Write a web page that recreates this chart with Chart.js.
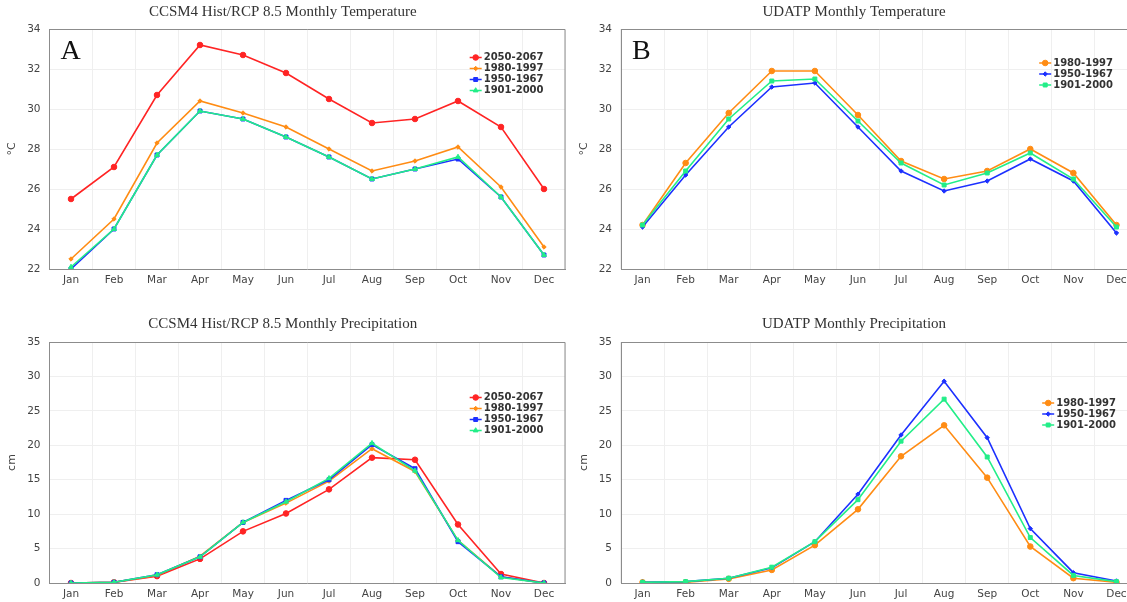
<!DOCTYPE html>
<html>
<head>
<meta charset="utf-8">
<script src="https://cdn.jsdelivr.net/npm/chart.js@4.4.1/dist/chart.umd.min.js"></script>
<style>
  html, body { margin: 0; padding: 0; background: #fff; overflow: hidden; }
  #page { position: relative; width: 1127px; height: 602px; overflow: hidden; }
  canvas { position: absolute; }
</style>
</head>
<body>
<div id="page">
  <canvas id="tempA" width="615" height="300" style="left:0px;top:0px"></canvas>
  <canvas id="tempB" width="619" height="300" style="left:570px;top:0px"></canvas>
  <canvas id="precA" width="615" height="302" style="left:0px;top:300px"></canvas>
  <canvas id="precB" width="619" height="302" style="left:570px;top:300px"></canvas>
</div>
<script>
var Months = ['Jan', 'Feb', 'Mar', 'Apr', 'May', 'Jun', 'Jul', 'Aug', 'Sep', 'Oct', 'Nov', 'Dec'];

// CCSM4 temperature (degC)
var ccsmTemp2050 = [25.5, 27.1, 30.7, 33.2, 32.7, 31.8, 30.5, 29.3, 29.5, 30.4, 29.1, 26.0];
var ccsmTemp1980 = [22.5, 24.5, 28.3, 30.4, 29.8, 29.1, 28.0, 26.9, 27.4, 28.1, 26.1, 23.1];
var ccsmTemp1950 = [22.0, 24.0, 27.7, 29.9, 29.5, 28.6, 27.6, 26.5, 27.0, 27.5, 25.6, 22.7];
var ccsmTemp1901 = [22.1, 24.0, 27.7, 29.9, 29.5, 28.6, 27.6, 26.5, 27.0, 27.6, 25.6, 22.7];

// UDATP temperature (degC)
var udTemp1980 = [24.2, 27.3, 29.8, 31.9, 31.9, 29.7, 27.4, 26.5, 26.9, 28.0, 26.8, 24.2];
var udTemp1950 = [24.1, 26.7, 29.1, 31.1, 31.3, 29.1, 26.9, 25.9, 26.4, 27.5, 26.4, 23.8];
var udTemp1901 = [24.2, 26.9, 29.5, 31.4, 31.5, 29.4, 27.3, 26.2, 26.8, 27.8, 26.5, 24.1];

// CCSM4 precipitation (cm)
var ccsmPrec2050 = [0.0, 0.1, 1.0, 3.5, 7.5, 10.1, 13.6, 18.2, 17.9, 8.5, 1.3, 0.0];
var ccsmPrec1980 = [0.0, 0.1, 1.1, 3.9, 8.8, 11.6, 14.8, 19.5, 16.2, 6.2, 0.9, 0.0];
var ccsmPrec1950 = [0.0, 0.1, 1.2, 3.8, 8.8, 12.0, 15.0, 20.1, 16.6, 6.0, 0.9, 0.0];
var ccsmPrec1901 = [0.0, 0.1, 1.2, 3.8, 8.8, 11.8, 15.2, 20.3, 16.3, 6.2, 0.8, 0.0];

// UDATP precipitation (cm)
var udPrec1980 = [0.1, 0.1, 0.6, 1.9, 5.5, 10.7, 18.4, 22.9, 15.3, 5.3, 0.7, 0.1];
var udPrec1950 = [0.1, 0.2, 0.7, 2.2, 6.0, 12.9, 21.5, 29.3, 21.1, 7.9, 1.5, 0.3];
var udPrec1901 = [0.1, 0.2, 0.7, 2.3, 6.0, 12.1, 20.6, 26.7, 18.3, 6.6, 1.1, 0.2];

var tempTicks = [22, 34, 2];
var precTicks = [0, 35, 5];

var RED = '#ff2424', ORANGE = '#ff8c14', BLUE = '#1c30ff', GREEN = '#22ee88';

function Series(label, data, colour, style, radius, order)
{
    return {
        label: label,
        data: data,
        borderColor: colour,
        backgroundColor: colour,
        pointBackgroundColor: colour,
        pointBorderColor: colour,
        pointStyle: style,
        pointRadius: radius,
        pointBorderWidth: 1,
        borderWidth: 1.6,
        tension: 0,
        order: order
    };
}

function drawMarker(ctx, style, r, x, y)
{
    if (Chart.helpers && Chart.helpers.drawPoint) {
        Chart.helpers.drawPoint(ctx, {pointStyle: style, radius: r, rotation: 0, borderWidth: 1}, x, y);
        return;
    }
    ctx.beginPath();
    ctx.arc(x, y, r, 0, Math.PI * 2);
    ctx.fill();
}

// box border, panel letter and the legend sitting inside the plot
var panelExtras = {
    id: 'panelExtras',
    afterDraw: function(chart, args, opts)
    {
        var ctx = chart.ctx;
        var area = chart.chartArea;
        ctx.save();

        ctx.strokeStyle = '#8c8c8c';
        ctx.lineWidth = 1;
        ctx.beginPath();
        ctx.moveTo(area.left, area.top + 0.5);
        ctx.lineTo(area.right - 0.5, area.top + 0.5);
        ctx.lineTo(area.right - 0.5, area.bottom);
        ctx.stroke();

        if (opts.letter) {
            ctx.fillStyle = '#111';
            ctx.font = '28px "Liberation Serif"';
            ctx.textAlign = 'left';
            ctx.textBaseline = 'alphabetic';
            ctx.fillText(opts.letter, area.left + 11, area.top + 30);
        }

        var sets = chart.data.datasets;
        ctx.font = 'bold 10px "DejaVu Sans"';
        ctx.textBaseline = 'middle';
        ctx.textAlign = 'left';
        var rowH = 11;
        var w = 0;
        sets.forEach(function(d) { w = Math.max(w, ctx.measureText(d.label).width); });
        var textX = area.right - opts.right - w;
        var y = area.top + opts.centerY - (sets.length - 1) * rowH / 2;
        sets.forEach(function(d) {
            var mx = textX - 8;
            ctx.strokeStyle = d.borderColor;
            ctx.fillStyle = d.borderColor;
            ctx.lineWidth = 1.5;
            ctx.beginPath();
            ctx.moveTo(mx - 6, y);
            ctx.lineTo(mx + 6, y);
            ctx.stroke();
            ctx.lineWidth = 1;
            drawMarker(ctx, d.pointStyle, d.pointRadius, mx, y);
            ctx.fillStyle = '#333';
            ctx.fillText(d.label, textX, y);
            y += rowH;
        });
        ctx.restore();
    }
};

function MakeChart(id, cfg)
{
    var tickFont = {family: '"DejaVu Sans"', size: 10.5};
    return new Chart(document.getElementById(id), {
        type: 'line',
        data: {labels: Months, datasets: cfg.datasets},
        plugins: [panelExtras],
        options: {
            responsive: false,
            animation: false,
            layout: {padding: {left: 0, right: cfg.yWidth, top: 0, bottom: 0}},
            plugins: {
                legend: {display: false},
                tooltip: {enabled: false},
                title: {
                    display: true,
                    text: cfg.title,
                    color: '#333',
                    font: {family: '"Liberation Serif"', size: 15, weight: 'normal'},
                    padding: {top: cfg.titleTop, bottom: cfg.titleBottom}
                },
                panelExtras: {letter: cfg.letter, right: cfg.legendRight, centerY: cfg.legendY}
            },
            scales: {
                x: {
                    offset: true,
                    grid: {offset: true, color: '#efefef', drawTicks: false},
                    border: {color: '#8c8c8c', width: 1},
                    ticks: {color: '#444', font: tickFont, padding: 5, autoSkip: false, maxRotation: 0},
                    afterFit: function(s) { s.height = cfg.xHeight; }
                },
                y: {
                    min: cfg.ticks[0],
                    max: cfg.ticks[1],
                    grid: {color: '#efefef', drawTicks: false},
                    border: {color: '#8c8c8c', width: 1},
                    ticks: {stepSize: cfg.ticks[2], color: '#444', font: tickFont, padding: 9},
                    title: {
                        display: true,
                        text: cfg.unit,
                        color: '#444',
                        font: {family: '"DejaVu Sans"', size: 11},
                        padding: {top: cfg.unitPad, bottom: 0}
                    },
                    afterFit: function(s) { s.width = cfg.yWidth; }
                }
            }
        }
    });
}

MakeChart('tempA', {
    title: 'CCSM4 Hist/RCP 8.5 Monthly Temperature', unit: '°C', letter: 'A', ticks: tempTicks,
    yWidth: 49.5, unitPad: 6, titleTop: 3, titleBottom: 8, xHeight: 31, legendRight: 22, legendY: 45,
    datasets: [
        Series('2050-2067', ccsmTemp2050, RED, 'circle', 2.8, 3),
        Series('1980-1997', ccsmTemp1980, ORANGE, 'rectRot', 2.2, 2),
        Series('1950-1967', ccsmTemp1950, BLUE, 'rect', 2.8, 1),
        Series('1901-2000', ccsmTemp1901, GREEN, 'triangle', 2.8, 0)
    ]
});

MakeChart('tempB', {
    title: 'UDATP Monthly Temperature', unit: '°C', letter: 'B', ticks: tempTicks,
    yWidth: 51, unitPad: 8, titleTop: 3, titleBottom: 8, xHeight: 31, legendRight: 25, legendY: 45,
    datasets: [
        Series('1980-1997', udTemp1980, ORANGE, 'circle', 2.8, 2),
        Series('1950-1967', udTemp1950, BLUE, 'rectRot', 2.2, 1),
        Series('1901-2000', udTemp1901, GREEN, 'rect', 2.8, 0)
    ]
});

MakeChart('precA', {
    title: 'CCSM4 Hist/RCP 8.5 Monthly Precipitation', unit: 'cm', letter: '', ticks: precTicks,
    yWidth: 49.5, unitPad: 6, titleTop: 15, titleBottom: 9, xHeight: 19, legendRight: 22, legendY: 72,
    datasets: [
        Series('2050-2067', ccsmPrec2050, RED, 'circle', 2.8, 3),
        Series('1980-1997', ccsmPrec1980, ORANGE, 'rectRot', 2.2, 2),
        Series('1950-1967', ccsmPrec1950, BLUE, 'rect', 2.8, 1),
        Series('1901-2000', ccsmPrec1901, GREEN, 'triangle', 2.8, 0)
    ]
});

MakeChart('precB', {
    title: 'UDATP Monthly Precipitation', unit: 'cm', letter: '', ticks: precTicks,
    yWidth: 51, unitPad: 8, titleTop: 15, titleBottom: 9, xHeight: 19, legendRight: 22, legendY: 72,
    datasets: [
        Series('1980-1997', udPrec1980, ORANGE, 'circle', 2.8, 2),
        Series('1950-1967', udPrec1950, BLUE, 'rectRot', 2.2, 1),
        Series('1901-2000', udPrec1901, GREEN, 'rect', 2.8, 0)
    ]
});
</script>
</body>
</html>
